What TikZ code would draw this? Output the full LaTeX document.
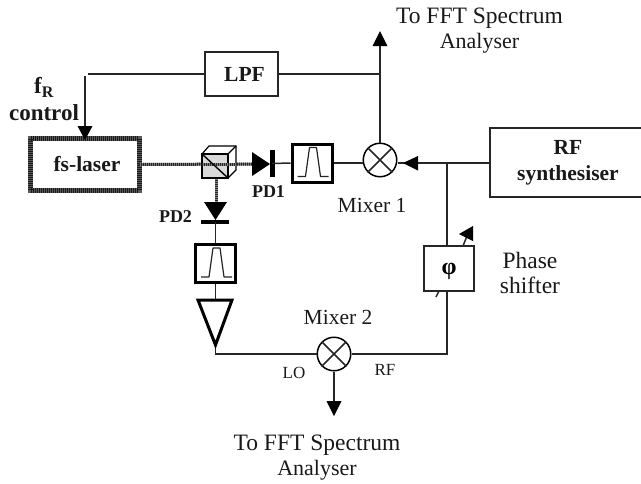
\documentclass[tikz,border=0pt]{standalone}
\usepackage{fontspec}
\setmainfont{Liberation Serif}
\usetikzlibrary{calc}
\tikzset{
  wire/.style={draw=black!85,line width=1.5pt},
  beam/.style={draw=black!50,line width=3pt,postaction={draw=black!85,line width=3pt,dash pattern=on 1pt off 1pt}},
  laserframe/.style={draw=black!65,line width=5pt,postaction={draw=black!90,line width=5pt,dash pattern=on 1pt off 1pt}},
  plainbox/.style={draw=black!85,line width=1.3pt,fill=white,inner sep=0pt,minimum width=#1},
  filterbox/.style={draw=black,line width=3pt,fill=white,inner sep=0pt,minimum width=40pt,minimum height=38pt},
  mixer/.style={draw=black,line width=1.5pt,circle,inner sep=0pt,minimum size=33.5pt,fill=white},
  lbl/.style={font=\fontsize{21.5}{25}\selectfont,align=center,inner sep=0pt,text=black!90},
  tlbl/.style={font=\fontsize{23.5}{25}\selectfont,align=center,inner sep=0pt,text=black!90},
  blbl/.style={font=\fontsize{21.5}{26}\selectfont\bfseries,align=center,inner sep=0pt,text=black!90},
  clbl/.style={font=\fontsize{23}{27}\selectfont\bfseries,align=center,inner sep=0pt,text=black!90},
  slbl/.style={font=\fontsize{18}{22}\selectfont\bfseries,inner sep=0pt,text=black!90},
  head/.style={fill=black,draw=none},
  band/.style={draw=black!85,line width=1.2pt,line join=round},
}
\newcommand{\passband}[1]{\draw[band] ($(#1)+(-14.5,13.5)$) -- ++(8,0) -- ++(4,-29) -- ++(7,0) -- ++(4,29) -- ++(8,0);}
\newcommand{\mixcross}[1]{\draw[wire] (#1.north west) -- (#1.south east) (#1.north east) -- (#1.south west);}
\begin{document}
\begin{tikzpicture}[x=1pt,y=-1pt]
\useasboundingbox (0,0) rectangle (641,483);
% boxes
\node[plainbox=73pt,minimum height=44pt,blbl] (lpf) at (241.5,74) {\hspace*{6pt}LPF};
\node[draw=none,inner sep=0pt,minimum width=108pt,minimum height=51pt,blbl] (laser) at (85,164.5) {\hspace*{4pt}fs-laser};
\draw[laserframe] (laser.south west) rectangle (laser.north east);
\node[plainbox=156pt,minimum height=69pt,blbl] (rf) at (568,162.5) {\raisebox{-2pt}{RF}\\[0pt]\raisebox{-2pt}{synthesiser}};
\node[plainbox=50pt,minimum height=45pt] (phase) at (449,268.5) {};
\node[font=\fontsize{24}{26}\selectfont\bfseries,inner sep=0pt] (phi) at (449,271) {φ};
\node[filterbox] (f1) at (312,163) {};
\node[filterbox] (f2) at (215.5,263.5) {};
\passband{f1}\passband{f2}
\node[mixer] (m1) at (380,160) {};
\node[mixer] (m2) at (334,354) {};
\mixcross{m1}\mixcross{m2}
% junction and free-end coordinates
\coordinate (tap) at (447,163);
\coordinate (top) at (380,38);
\coordinate (jn) at (380,74);
\coordinate (amp) at (215.5,354);
\coordinate (botc) at (447,354);
\coordinate (bot) at (334,408);
% cube
\coordinate (cfNW) at (202,154);
\coordinate (cfSE) at (228,178);
% wires
\draw[wire] (lpf.east) -- (jn);
\draw[wire] (m1.north) -- (top);
\draw[wire] (lpf.west) -- (88,74);
\draw[wire] (85,76) -- (85,128);
\draw[wire] (f1.east) -- (f1.east -| m1.west);
\draw[wire] (rf.west |- tap) -- (tap) -- (tap -| m1.east);
\draw[wire] (tap) -- (tap |- phase.north);
\draw[wire] (tap |- phase.south) -- (botc) -- (m2.east);
\draw[wire] (f2.south) -- (215.5,300);
\draw[wire] (215.5,345) -- (amp) -- (m2.west);
\draw[wire] (m2.south) -- (bot);
% arrowheads
\fill[head] (85,140) -- (77.5,126) -- (92.5,126) -- cycle;
\fill[head] (380,31) -- (372.5,46) -- (387.5,46) -- cycle;
\fill[head] (403,163) -- (418,156) -- (418,170.5) -- cycle;
\fill[head] (334,416) -- (326.5,401) -- (341.5,401) -- cycle;
% phase adjust arrow and tick
\draw[wire] (463,246) -- (467,236);
\fill[head] (473,226) -- (473,241) -- (459,234) -- cycle;
\draw[wire] (436,297) -- (439,291);
% beams
\draw[beam] (laser.east) -- (252,164);
\draw[beam] (216,178) -- (216,203);
% cube drawing
\draw[line width=1.2pt,fill=white] (cfNW) -- (209,146) -- (236,146) -- (236,170) -- (228,178) -- cycle;
\draw[line width=1.2pt,fill=black!15] (cfNW) rectangle (cfSE);
\draw[line width=1.2pt] (cfNW -| cfSE) -- (236,146);
\draw[beam] (202,164) -- (236,164);
\draw[line width=1.4pt] (cfNW) -- (cfSE);
% diodes
\fill[head] (252,152) -- (252,176) -- (270,164) -- cycle;
\draw[black,line width=5pt] (272,150) -- (272,177);
\draw[wire] (272,163.5) -- (f1.west);
\fill[head] (204,202) -- (227,202) -- (215.5,220) -- cycle;
\draw[black,line width=4.5pt] (201,222) -- (229,222);
\draw[wire] (215.5,222) -- (f2.north);
% amplifier
\draw[black,line width=3pt,line join=miter] (198,300) -- (232,300) -- (215.5,345) -- cycle;
% labels
\node[tlbl] (t1) at (479.5,31) {To FFT Spectrum\\\fontsize{22}{25}\selectfont Analyser};
\node[tlbl] (t2) at (317,458) {To FFT Spectrum\\\fontsize{22}{25}\selectfont Analyser};
\node[lbl] (mx1) at (372,205) {Mixer 1};
\node[lbl] (mx2) at (338,317) {Mixer 2};
\node[tlbl] (ps) at (530,272.5) {Phase\\shifter};
\node[font=\fontsize{17}{20}\selectfont,inner sep=0pt,text=black!90] (lo) at (294,373) {LO};
\node[font=\fontsize{17}{20}\selectfont,inner sep=0pt,text=black!90] (rfl) at (385,370) {RF};
\node[slbl] (pd1) at (268.5,192) {PD1};
\node[slbl] (pd2) at (175.5,217) {PD2};
\node[clbl] (fr) at (44,99.5) {f\textsubscript{R}\\control};
\end{tikzpicture}
\end{document}
